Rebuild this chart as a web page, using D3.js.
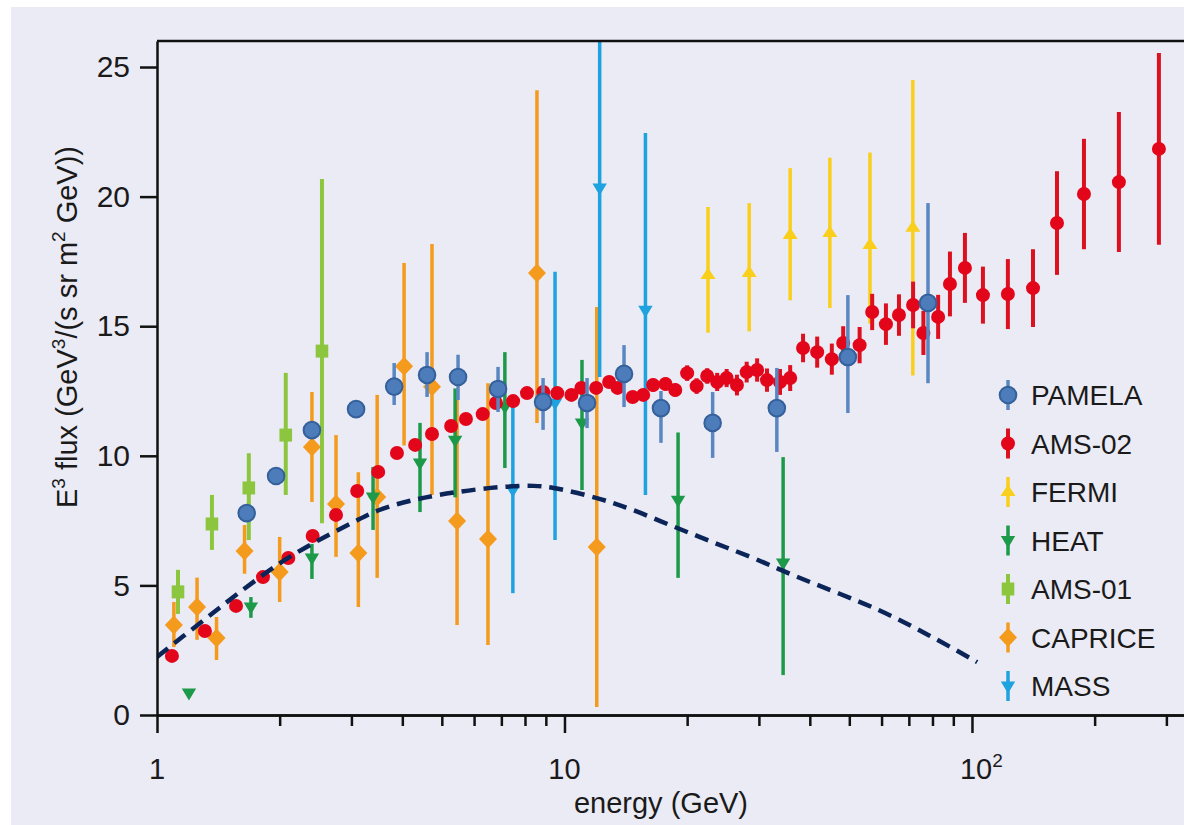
<!DOCTYPE html>
<html><head><meta charset="utf-8">
<script src="https://cdn.jsdelivr.net/npm/d3@7"></script>
<style>body{margin:0;background:#fff}text{font-family:"Liberation Sans",Arial,sans-serif;fill:#1a1a1a}</style>
</head><body>
<svg id="c" width="1184" height="825"></svg>
<script>
// ---------------- data ----------------
const curveE = [1.0,1.3,1.6,2.0,2.4,3.0,3.5,4.25,5.45,7.07,8.4,9.4,12,14.7,18.4,23.1,29,37,59,80,103];
const curveV = [2.24,3.65,4.75,5.85,6.6,7.4,7.9,8.29,8.6,8.8,8.84,8.76,8.37,7.91,7.29,6.67,6.06,5.35,4.05,3.0,2.04];

const ams02E = [1.088,1.311,1.563,1.82,2.10,2.41,2.75,3.10,3.49,3.88,4.30,4.73,5.27,5.73,6.30,6.79,7.48,8.09,8.87,9.6,10.4,11.0,11.96,12.87,13.5,14.7,15.6,16.5,17.7,18.7,20.0,21.1,22.4,23.7,25.0,26.5,28.0,29.7,31.4,33.8,35.8,38.5,41.7,45.3,48.3,53.0,56.9,61.5,66.2,71.7,76.0,82.6,88.3,96.1,106.4,122.5,141.2,161.7,188.3,229.4,287.6];
const ams02V = [2.28,3.24,4.21,5.32,6.06,6.91,7.72,8.64,9.38,10.11,10.42,10.84,11.15,11.42,11.61,12.04,12.11,12.42,12.46,12.42,12.35,12.62,12.62,12.85,12.62,12.27,12.35,12.73,12.77,12.54,13.19,12.69,13.08,12.85,13.0,12.73,13.23,13.31,12.92,12.85,13.0,14.16,14.0,13.73,14.35,14.27,15.55,15.08,15.43,15.82,14.74,15.36,16.63,17.25,16.2,16.24,16.47,18.98,20.1,20.56,21.84];
const ams02Err = [0,0,0,0,0,0,0,0,0,0,0,0,0,0,0,0,0,0,0,0.1,0.1,0.15,0.15,0.2,0.2,0.2,0.2,0.25,0.25,0.25,0.3,0.3,0.3,0.35,0.35,0.4,0.4,0.45,0.45,0.5,0.5,0.55,0.6,0.6,0.65,0.7,0.7,0.8,0.8,0.9,0.85,0.85,1.25,1.35,1.1,1.35,1.5,2.0,2.13,2.7,3.7];

const pamelaE  = [1.66,1.96,2.40,3.08,3.82,4.60,5.48,6.87,8.86,11.36,14.0,17.25,23.1,33.2,49.6,78.0];
const pamelaV  = [7.79,9.22,10.99,11.8,12.67,13.12,13.04,12.58,12.08,12.04,13.16,11.84,11.27,11.84,13.81,15.9];
const pamelaLo = [7.79,9.22,10.99,11.8,11.96,12.27,12.15,11.69,11.0,11.07,11.88,10.5,9.92,10.15,11.65,12.8];
const pamelaHi = [7.79,9.22,10.99,11.8,13.58,14.0,13.9,13.43,13.0,13.0,14.27,12.5,12.46,13.39,16.2,19.75];

const fermiE  = [22.5,28.4,35.8,44.8,56.2,71.6];
const fermiV  = [16.98,17.05,18.52,18.6,18.13,18.8];
const fermiLo = [14.75,14.8,16.0,15.7,15.1,13.1];
const fermiHi = [19.6,19.75,21.1,21.5,21.7,24.5];

const heatE  = [1.198,1.70,2.40,3.39,4.42,5.39,7.14,11.04,19.0,34.4];
const heatV  = [0.85,4.17,6.06,8.41,9.72,10.6,11.88,11.27,8.29,5.86];
const heatLo = [0.85,3.75,5.25,7.14,7.83,8.4,9.53,8.68,5.29,1.54];
const heatHi = [0.85,4.55,6.6,9.57,11.27,12.6,14.0,13.7,10.9,9.95];

const ams01E  = [1.126,1.364,1.68,2.07,2.54];
const ams01V  = [4.75,7.37,8.76,10.8,14.04];
const ams01Lo = [3.9,6.37,6.75,8.49,7.4];
const ams01Hi = [5.6,8.49,10.1,13.2,20.68];

const capriceE  = [1.10,1.254,1.40,1.64,2.0,2.40,2.75,3.12,3.47,4.04,4.73,5.45,6.49,8.56,12.0];
const capriceV  = [3.47,4.17,2.97,6.33,5.52,10.34,8.14,6.25,8.41,13.46,12.66,7.48,6.79,17.05,6.48];
const capriceLo = [2.62,2.9,2.12,5.45,4.36,8.22,6.1,4.17,5.29,10.4,8.49,3.47,2.7,11.27,0.31];
const capriceHi = [4.36,5.3,3.78,7.33,6.87,12.46,10.8,9.37,12.35,17.44,18.17,12.15,12.8,24.1,15.74];

const massE  = [7.47,9.48,12.2,15.8];
const massV  = [8.68,12.04,20.33,15.62];
const massLo = [4.7,6.75,13.04,8.49];
const massHi = [12.15,17.1,26.0,22.45];

const yTicks = [0,5,10,15,20,25];
const xMajor = [1,10,100];
const xMinor = [2,3,4,5,6,7,8,9,20,30,40,50,60,70,80,90,200,300];
const legendNames = ["PAMELA","AMS-02","FERMI","HEAT","AMS-01","CAPRICE","MASS"];

// ---------------- build ----------------
const W=1184,H=825;
const svg=d3.select("#c");
svg.append("rect").attr("x",11).attr("y",7).attr("width",W-11).attr("height",H-7).attr("fill","#ebebf5");

const x=d3.scaleLog().domain([1,331.4]).range([157,1184]);
const y=d3.scaleLinear().domain([0,26]).range([715,41.1]);

function shapePath(type){
  const p=d3.path();
  if(type==="circle"){p.arc(0,0,7,0,2*Math.PI);}
  else if(type==="bigcircle"){p.arc(0,0,8.3,0,2*Math.PI);}
  else if(type==="diamond"){p.moveTo(0,-9.5);p.lineTo(9,0);p.lineTo(0,9.5);p.lineTo(-9,0);p.closePath();}
  else if(type==="square"){p.rect(-6.3,-6.5,12.6,13);}
  else if(type==="up"){p.moveTo(0,-7.5);p.lineTo(7.5,4);p.lineTo(-7.5,4);p.closePath();}
  else if(type==="down"){p.moveTo(0,7.5);p.lineTo(7.2,-4.5);p.lineTo(-7.2,-4.5);p.closePath();}
  return p.toString();
}

const zip=(E,V,Lo,Hi)=>E.map((e,i)=>({e,v:V[i],lo:Lo[i],hi:Hi[i]}));
const series={
  PAMELA:{data:zip(pamelaE,pamelaV,pamelaLo,pamelaHi),color:"#4d7cba",bar:"#5a87c2",stroke:"#34609b",shape:"bigcircle",bw:3.5},
  "AMS-02":{data:ams02E.map((e,i)=>({e,v:ams02V[i],lo:ams02V[i]-ams02Err[i],hi:ams02V[i]+ams02Err[i]})),color:"#e3061a",bar:"#dd1020",shape:"circle",bw:4},
  FERMI:{data:zip(fermiE,fermiV,fermiLo,fermiHi),color:"#f9cf1b",bar:"#f9cf1b",shape:"up",bw:3.5},
  HEAT:{data:zip(heatE,heatV,heatLo,heatHi),color:"#1d9a49",bar:"#1d9a49",shape:"down",bw:3.5},
  "AMS-01":{data:zip(ams01E,ams01V,ams01Lo,ams01Hi),color:"#8cc63f",bar:"#8cc63f",shape:"square",bw:4},
  CAPRICE:{data:zip(capriceE,capriceV,capriceLo,capriceHi),color:"#f49a1c",bar:"#f49a1c",shape:"diamond",bw:3.5},
  MASS:{data:zip(massE,massV,massLo,massHi),color:"#1ea2e0",bar:"#1ea2e0",shape:"down",bw:3.5}
};

svg.append("clipPath").attr("id","clip").append("rect").attr("x",157).attr("y",41).attr("width",W-157).attr("height",674);
const plot=svg.append("g").attr("clip-path","url(#clip)");

const drawOrder=["CAPRICE","AMS-01","HEAT","MASS","FERMI","AMS-02","PAMELA"];
drawOrder.forEach(name=>{
  const s=series[name];
  const g=plot.append("g");
  g.selectAll("line").data(s.data.filter(d=>d.hi>d.lo)).join("line")
    .attr("x1",d=>x(d.e)).attr("x2",d=>x(d.e)).attr("y1",d=>y(d.lo)).attr("y2",d=>y(d.hi))
    .attr("stroke",s.bar).attr("stroke-width",s.bw);
  g.selectAll("path").data(s.data).join("path")
    .attr("d",shapePath(s.shape)).attr("transform",d=>`translate(${x(d.e)},${y(d.v)})`)
    .attr("fill",s.color).attr("stroke",s.stroke||"none").attr("stroke-width",s.stroke?2:0);
});

// dashed model curve
plot.append("path").datum(curveE.map((e,i)=>[e,curveV[i]]))
  .attr("d",d3.line().x(d=>x(d[0])).y(d=>y(d[1])).curve(d3.curveCatmullRom))
  .attr("fill","none").attr("stroke","#0c2558").attr("stroke-width",4.5).attr("stroke-dasharray","14,8");

// axes
const axStyle=g=>{g.selectAll(".domain").attr("stroke","#111").attr("stroke-width",2.5);g.selectAll(".tick line").attr("stroke","#111").attr("stroke-width",2.5);};
svg.append("g").attr("transform","translate(0,715)")
  .call(d3.axisBottom(x).tickValues(xMinor).tickSize(11).tickSizeOuter(0).tickFormat(""))
  .call(axStyle);
svg.append("g").attr("transform","translate(0,715)")
  .call(d3.axisBottom(x).tickValues(xMajor).tickSize(18).tickSizeOuter(0).tickFormat(""))
  .call(axStyle);
const yax=svg.append("g").attr("transform","translate(157,0)")
  .call(d3.axisLeft(y).tickValues(yTicks).tickSize(17).tickSizeOuter(0).tickPadding(10))
  .call(axStyle);
yax.selectAll(".tick text").attr("font-size",30).attr("font-family","Liberation Sans, Arial, sans-serif").attr("fill","#1a1a1a");
svg.append("line").attr("x1",157).attr("x2",W).attr("y1",y(26)).attr("y2",y(26)).attr("stroke","#111").attr("stroke-width",2.5);

// x tick labels
xMajor.forEach(v=>{
  const exp=Math.round(Math.log10(v));
  const t=svg.append("text").attr("y",779).attr("font-size",29);
  if(exp<2){t.attr("x",x(v)).attr("text-anchor","middle").text(String(v));}
  else{
    t.attr("x",x(v)-12).attr("text-anchor","start");
    t.append("tspan").text("10");
    t.append("tspan").attr("font-size",19).attr("dy",-12).text(String(exp));
  }
});
svg.append("text").attr("x",661).attr("y",813).attr("text-anchor","middle").attr("font-size",29).text("energy (GeV)");

// y title
const yt=svg.append("text").attr("transform","translate(77,327) rotate(-90)").attr("text-anchor","middle").attr("font-size",29);
const parts=[["E",0],["3",1],[" flux (GeV",0],["3",1],["/(s sr m",0],["2",1],[" GeV))",0]];
let prevSup=false;
parts.forEach(([txt,sup])=>{
  const ts=yt.append("tspan").text(txt);
  if(sup){ts.attr("font-size",19).attr("dy",-12);prevSup=true;}
  else if(prevSup){ts.attr("dy",12);prevSup=false;}
});

// legend
legendNames.forEach((name,i)=>{
  const s=series[name];
  const cy=395+i*48.5, cx=1008;
  svg.append("line").attr("x1",cx).attr("x2",cx).attr("y1",cy-15).attr("y2",cy+15).attr("stroke",s.bar).attr("stroke-width",s.bw);
  svg.append("path").attr("d",shapePath(s.shape)).attr("transform",`translate(${cx},${cy})`)
    .attr("fill",s.color).attr("stroke",s.stroke||"none").attr("stroke-width",s.stroke?2:0);
  svg.append("text").attr("x",1031).attr("y",cy+10).attr("font-size",28).text(name);
});
</script>
</body></html>
